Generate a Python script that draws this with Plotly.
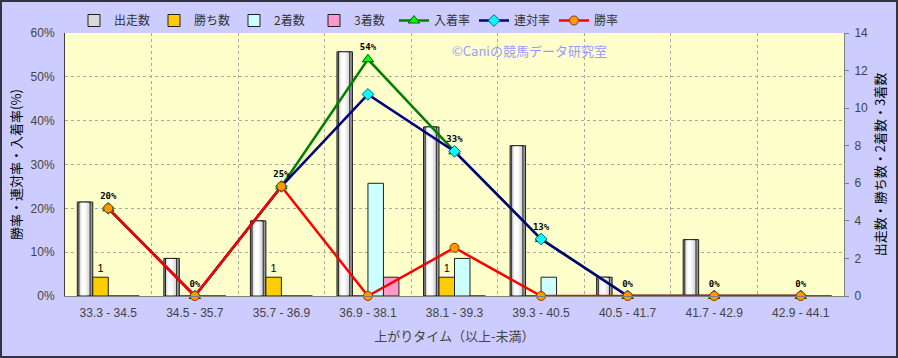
import plotly.graph_objects as go

categories = ["33.3 - 34.5", "34.5 - 35.7", "35.7 - 36.9", "36.9 - 38.1", "38.1 - 39.3",
              "39.3 - 40.5", "40.5 - 41.7", "41.7 - 42.9", "42.9 - 44.1"]
runs = [5, 2, 4, 13, 9, 8, 1, 3, 0]
wins = [1, 0, 1, 0, 1, 0, 0, 0, 0]
seconds = [0, 0, 0, 6, 2, 1, 0, 0, 0]
thirds = [0, 0, 0, 1, 0, 0, 0, 0, 0]
top3_rate = [20, 0, 25, 54, 33, 13, 0, 0, 0]
top2_rate = [20, 0, 25, 46, 33, 13, 0, 0, 0]
win_rate = [20, 0, 25, 0, 11, 0, 0, 0, 0]

FONT = "Liberation Sans, Noto Sans CJK JP, sans-serif"
JFONT = "Noto Sans CJK JP, sans-serif"

BW = 0.179  # bar width in category units
fig = go.Figure()
bar_line = dict(color="#202020", width=1)

# 出走数 bars with a cylinder-like shading built from stacked layers of the same data
shade_layers = [(1.00, "#8C8C8C"), (0.86, "#ABABAB"), (0.72, "#C8C8C8"),
                (0.56, "#E2E2E2"), (0.38, "#F6F6F6"), (0.20, "#FFFFFF")]
base_off = -2 * BW
for i, (frac, col) in enumerate(shade_layers):
    w = BW * frac
    shift = -0.12 * BW * (1 - frac) if i > 0 else 0
    fig.add_trace(go.Bar(x=categories, y=runs, name="出走数", yaxis="y",
                         width=w, offset=base_off + (BW - w) / 2 + shift,
                         marker=dict(color=col, line=dict(width=0)),
                         showlegend=False, hoverinfo="skip", legendgroup="runs"))
fig.add_trace(go.Bar(x=categories, y=runs, name="出走数", yaxis="y",
                     width=BW, offset=base_off,
                     marker=dict(color="rgba(0,0,0,0)", line=bar_line),
                     showlegend=False, legendgroup="runs"))

fig.add_trace(go.Bar(x=categories, y=wins, name="勝ち数", yaxis="y",
                     width=BW, offset=-BW,
                     marker=dict(color="#FFCC00", line=bar_line),
                     text=[str(v) if v > 0 else "" for v in wins],
                     textposition="outside", cliponaxis=False,
                     textfont=dict(size=11, color="#000000", family=FONT)))
fig.add_trace(go.Bar(x=categories, y=seconds, name="2着数", yaxis="y",
                     width=BW, offset=0,
                     marker=dict(color="#CCFFFF", line=bar_line)))
fig.add_trace(go.Bar(x=categories, y=thirds, name="3着数", yaxis="y",
                     width=BW, offset=BW,
                     marker=dict(color="#FF99CC", line=bar_line)))

fig.add_trace(go.Scatter(x=categories, y=top3_rate, name="入着率", yaxis="y2",
                         mode="lines+markers+text",
                         line=dict(color="#008000", width=2.5),
                         marker=dict(symbol="triangle-up", size=10, color="#00FF00",
                                     line=dict(color="#006000", width=1)),
                         texttemplate="%{y:.0f}%", textposition="top center",
                         textfont=dict(size=9, color="#000000", family="DejaVu Sans Mono, monospace", weight="bold"),
                         cliponaxis=False))
fig.add_trace(go.Scatter(x=categories, y=top2_rate, name="連対率", yaxis="y2",
                         mode="lines+markers",
                         line=dict(color="#000080", width=2.5),
                         marker=dict(symbol="diamond", size=9, color="#00FFFF",
                                     line=dict(color="#006080", width=1))))
fig.add_trace(go.Scatter(x=categories, y=win_rate, name="勝率", yaxis="y2",
                         mode="lines+markers",
                         line=dict(color="#FF0000", width=2.5),
                         marker=dict(symbol="circle", size=9, color="#FF9900",
                                     line=dict(color="#804000", width=1)),
                         cliponaxis=False))

# legend entry for 出走数 (shows the outlined shaded bar style)
fig.data[2].showlegend = True
fig.data[2].legendrank = 1
for k, tr in enumerate(fig.data):
    if k != 2 and tr.showlegend is not False:
        tr.legendrank = 10 + k
fig.data[2].marker.line = bar_line
fig.data[2].marker.color = "#DADADA"

W, H = 898, 358
ml, mr, mt, mb = 65, 54, 33, 62
pw, ph = W - ml - mr, H - mt - mb

fig.update_layout(
    width=W, height=H,
    margin=dict(l=ml, r=mr, t=mt, b=mb, pad=0, autoexpand=False),
    paper_bgcolor="#CCCCFF", plot_bgcolor="#FFFFCC",
    font=dict(family=FONT, size=12, color="#333333"),
    barmode="overlay",
    showlegend=True,
    legend=dict(orientation="h", x=(74 - ml) / pw, xanchor="left",
                y=1 + (mt - 6) / ph, yanchor="top",
                font=dict(size=12, family=JFONT, color="#333333"),
                bgcolor="rgba(0,0,0,0)", itemwidth=30, tracegroupgap=0,
                entrywidth=35, entrywidthmode="pixels"),
    xaxis=dict(type="category", tickson="boundaries", showgrid=True,
               gridcolor="#A8A8A8", griddash="dot", gridwidth=1,
               showline=True, linecolor="#808080", linewidth=1,
               ticks="", tickfont=dict(size=12, color="#444444"),
               ticklabelstandoff=6,
               range=[-0.5, 8.5],
               title=dict(text="上がりタイム（以上-未満）", standoff=12,
                          font=dict(size=13, family=JFONT, color="#444444"))),
    yaxis=dict(side="right", range=[0, 14], dtick=2, showgrid=False, zeroline=False,
               showline=True, linecolor="#808080", linewidth=1,
               ticks="outside", ticklen=4, tickcolor="#808080",
               tickfont=dict(size=12, color="#444444"), ticklabelstandoff=3,
               title=dict(text="出走数・勝ち数・2着数・3着数", standoff=8,
                          font=dict(size=13, family=JFONT, color="#000000"))),
    yaxis2=dict(overlaying="y", side="left", range=[0, 60], dtick=10, ticksuffix="%",
                showgrid=True, gridcolor="#A8A8A8", griddash="dot", gridwidth=1,
                zeroline=False, showline=True, linecolor="#404040", linewidth=1,
                ticks="", tickfont=dict(size=12, color="#444444"), ticklabelstandoff=7,
                title=dict(text="勝率・連対率・入着率(%)", standoff=6,
                           font=dict(size=13, family=JFONT, color="#000000"))),
)

fig.add_annotation(text="©Caniの競馬データ研究室", xref="paper", yref="paper",
                   x=(450 - ml) / pw, y=1 - (50 - mt) / ph, xanchor="left", yanchor="middle",
                   showarrow=False, font=dict(size=13, family=JFONT, color="#9999FF"))

fig.add_shape(type="rect", xref="paper", yref="paper",
              x0=(-ml + 1) / pw, x1=1 + (mr - 1) / pw,
              y0=(-mb + 1) / ph, y1=1 + (mt - 1) / ph,
              line=dict(color="#333344", width=2), fillcolor="rgba(0,0,0,0)", layer="above")

fig.write_html("out.html", config={"displayModeBar": False},
               post_script="document.body.style.margin='0';document.body.style.overflow='hidden';")
